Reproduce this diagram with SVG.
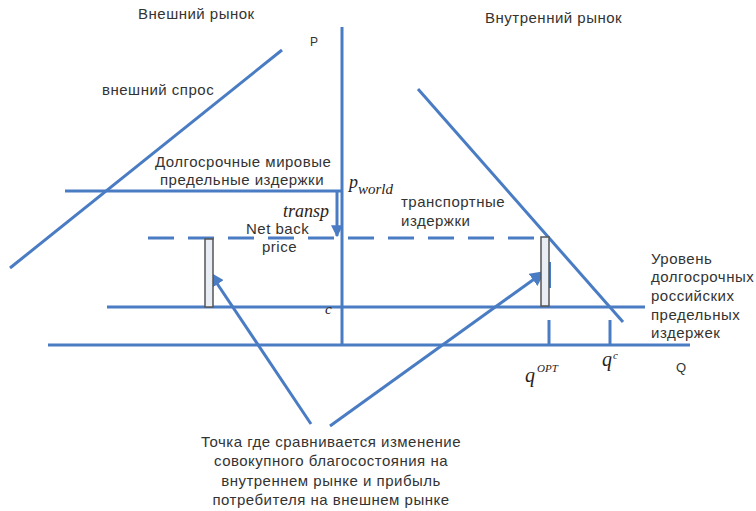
<svg xmlns="http://www.w3.org/2000/svg" width="756" height="511" viewBox="0 0 756 511">
<defs>
<style>
.ln{stroke:#4a7cc4;stroke-width:3;fill:none;stroke-linecap:butt}
.t{font-family:"Liberation Sans",Arial,sans-serif;font-size:15px;letter-spacing:0.5px;fill:#333}
.m{font-family:"Liberation Serif","Times New Roman",serif;font-style:italic;fill:#2a2218}
.bar{fill:#e9edf4;stroke:#555;stroke-width:1.5}
</style>
<marker id="ah" viewBox="0 0 10 10" refX="9" refY="5" markerWidth="5" markerHeight="5" markerUnits="strokeWidth" orient="auto">
<path d="M0,0 L10,5 L0,10 z" fill="#4a7cc4"/>
</marker>
<marker id="ah2" viewBox="0 0 10 10" refX="9" refY="5" markerWidth="4" markerHeight="4" markerUnits="strokeWidth" orient="auto">
<path d="M0,0 L10,5 L0,10 z" fill="#4a7cc4"/>
</marker>
</defs>
<rect width="756" height="511" fill="#fff"/>
<g id="connectors">
<line class="ln" x1="342" y1="27" x2="342" y2="345"/>
<line class="ln" x1="48" y1="345" x2="690" y2="345"/>
<line class="ln" x1="10" y1="268" x2="282" y2="50"/>
<line class="ln" x1="418" y1="89" x2="623" y2="322"/>
<line class="ln" x1="65" y1="191" x2="342" y2="191"/>
<line class="ln" x1="148" y1="238" x2="541" y2="238" stroke-dasharray="26 14"/>
<line class="ln" x1="107" y1="307" x2="645" y2="307"/>
<line class="ln" x1="549" y1="320" x2="549" y2="345"/>
<line class="ln" x1="610" y1="320" x2="610" y2="345"/>
<line class="ln" x1="550" y1="262" x2="550" y2="288" style="stroke-width:2"/>
<line class="ln" x1="337" y1="191" x2="337" y2="236" marker-end="url(#ah2)"/>
<line class="ln" x1="311" y1="424" x2="210" y2="273" marker-end="url(#ah)"/>
<line class="ln" x1="330" y1="426" x2="544" y2="272" marker-end="url(#ah)"/>
</g>
<g id="bar-left"><rect class="bar" x="205" y="239" width="8" height="68"/></g>
<g id="bar-right"><rect class="bar" x="541" y="237" width="8" height="69"/></g>
<g id="labels">
<text class="t" x="138" y="19">Внешний рынок</text>
<text class="t" x="485" y="23">Внутренний рынок</text>
<text class="t" x="310" y="46" style="font-size:12px">P</text>
<text class="t" x="102" y="95">внешний спрос</text>
<text class="t" x="155" y="167">Долгосрочные мировые</text>
<text class="t" x="160" y="185">предельные издержки</text>
<text class="m" x="349" y="188" style="font-size:18px">p</text>
<text class="m" x="358" y="194" style="font-size:15px">world</text>
<text class="t" x="401" y="207">транспортные</text>
<text class="t" x="401" y="226">издержки</text>
<text class="m" x="283" y="217" style="font-size:18px">transp</text>
<text class="t" x="246" y="234">Net back</text>
<text class="t" x="262" y="252">price</text>
<text class="m" x="325" y="314" style="font-size:15px">c</text>
<text class="t" x="651" y="264">Уровень</text>
<text class="t" x="651" y="282">долгосрочных</text>
<text class="t" x="651" y="301">российских</text>
<text class="t" x="651" y="320">предельных</text>
<text class="t" x="651" y="338">издержек</text>
<text class="m" x="525" y="382" style="font-size:20px">q</text>
<text class="m" x="537" y="372" style="font-size:11px">OPT</text>
<text class="m" x="602" y="366" style="font-size:20px">q</text>
<text class="m" x="613" y="359" style="font-size:11px">c</text>
<text class="t" x="676" y="372" style="font-size:13px">Q</text>
<g text-anchor="middle" class="t">
<text x="331" y="447">Точка где сравнивается изменение</text>
<text x="331" y="466">совокупного благосостояния на</text>
<text x="331" y="486">внутреннем рынке и прибыль</text>
<text x="331" y="505">потребителя на внешнем рынке</text>
</g>
</g>
</svg>
